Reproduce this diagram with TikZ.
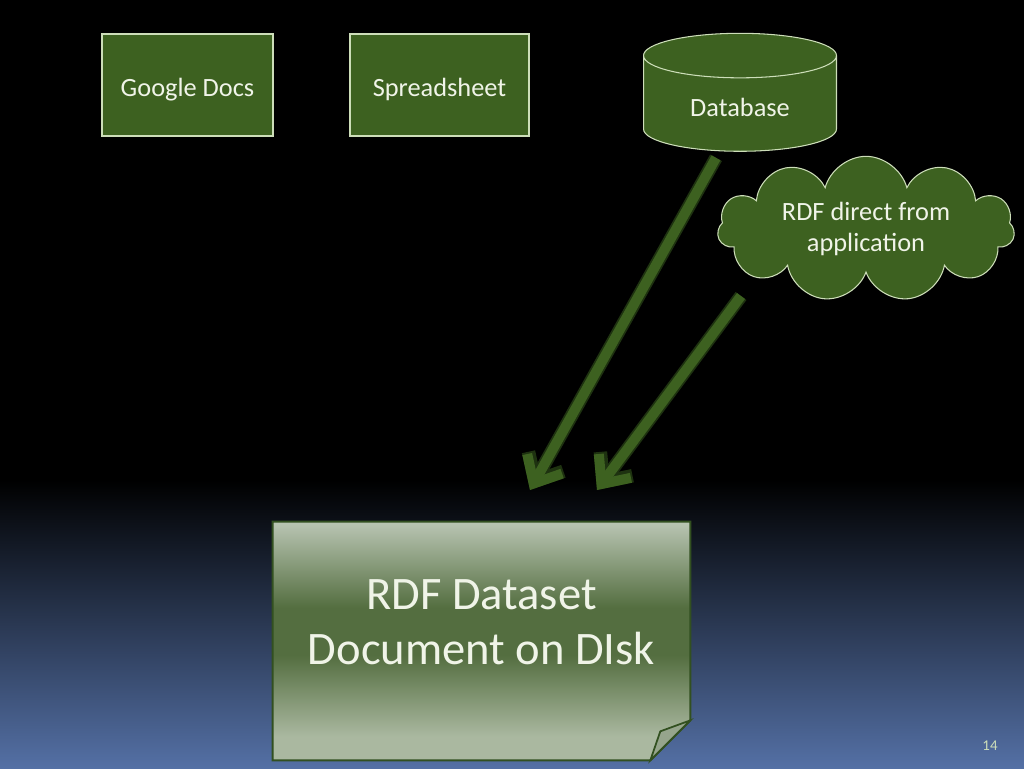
\documentclass[tikz,border=0pt]{standalone}
\usepackage{fontspec}
\setmainfont{Carlito}
\usetikzlibrary{shapes.geometric,shapes.symbols,arrows.meta,backgrounds}
\definecolor{boxgreen}{RGB}{61,97,32}
\definecolor{edgegreen}{RGB}{205,222,185}
\definecolor{textwhite}{RGB}{240,244,232}
\definecolor{glowgreen}{RGB}{30,50,16}
\definecolor{slateblue}{RGB}{84,112,165}
\definecolor{docdark}{RGB}{84,110,64}
\definecolor{doclight}{RGB}{186,198,180}
\definecolor{doclow}{RGB}{170,184,160}
\definecolor{docedge}{RGB}{50,80,32}
\definecolor{foldgray}{RGB}{150,165,140}
\pgfdeclareverticalshading{docfade}{100bp}{color(0bp)=(doclow); color(25bp)=(doclow);
  color(30bp)=(doclow); color(47bp)=(docdark); color(57bp)=(docdark);
  color(75bp)=(doclight); color(100bp)=(doclight)}

\begin{document}
\begin{tikzpicture}[
     x = .02cm, y = -.02cm,
     every node/.style = {
     	text = textwhite, font = \fontsize{15}{17.5}\selectfont},
     box/.style = {
     	draw = edgegreen, fill = boxgreen, line width = .6pt,
     	minimum height = 2.04cm, text height = 13.6pt, text depth = 0pt},
     flow/.style = {
     	preaction = {draw = glowgreen, line width = .27cm},
     	draw = boxgreen, line width = .2cm,
     	-{Straight Barb[length = .45cm, width = .8cm]}}
     ]

       \useasboundingbox (0,0) rectangle (1024,768);

       \node[box, minimum width = 3.42cm] (gdocs) at (187.5,85) {Google Docs}; % 0
       \node[box, minimum width = 3.58cm] (sheet) at (439.5,85) {Spreadsheet}; % 1
       \node[cylinder, shape border rotate = 90, aspect = .4,
             draw = edgegreen, fill = boxgreen, line width = .6pt,
             text height = 10.8pt, text depth = 0pt,
             minimum width = 3.86cm, minimum height = 2.36cm] (db) at (740,107.5) {Database}; % 2
       \node[cloud, cloud puffs = 11, aspect = 2.7, align = center,
             draw = edgegreen, fill = boxgreen, line width = .6pt,
             minimum width = 5.94cm, minimum height = 2.1cm] (app) at (866,229) {RDF direct from\\application}; % 3
       \node[minimum width = 8.34cm, minimum height = 4.76cm,
             label = {[align = center, yshift = .38cm,
                       font = \fontsize{26.5}{31.3}\selectfont]center:RDF Dataset\\Document on DIsk}] (doc) at (481.5,641) {}; % 4
       \node[font = \fontsize{8.5}{10}\selectfont, text = edgegreen] (page) at (990,746) {14}; % 5

       \coordinate (tip1) at (530,490);
       \coordinate (tip2) at (597,490);

       \begin{scope}[on background layer]
       \fill[black] (0,0) rectangle (1024,768);
       \shade[top color = black, bottom color = slateblue] (0,480) rectangle (1024,768);
       \shade[shading = docfade, draw = docedge, line width = 1.2pt]
         (doc.north west) -- (doc.north east) -- ([shift = {(0,-40)}]doc.south east)
         -- ([shift = {(-40,0)}]doc.south east) -- (doc.south west) -- cycle;
       \filldraw[fill = foldgray, draw = docedge, line width = 1pt]
         ([shift = {(0,-40)}]doc.south east) -- ([shift = {(-30,-29)}]doc.south east)
         -- ([shift = {(-40,0)}]doc.south east) -- cycle;
       \end{scope}

       \draw[flow] ([shift = {(-24,6)}]db.south) -- (tip1);
       \draw[flow] ([shift = {(-125,67)}]app.center) -- (tip2);

      \end{tikzpicture}
\end{document}
